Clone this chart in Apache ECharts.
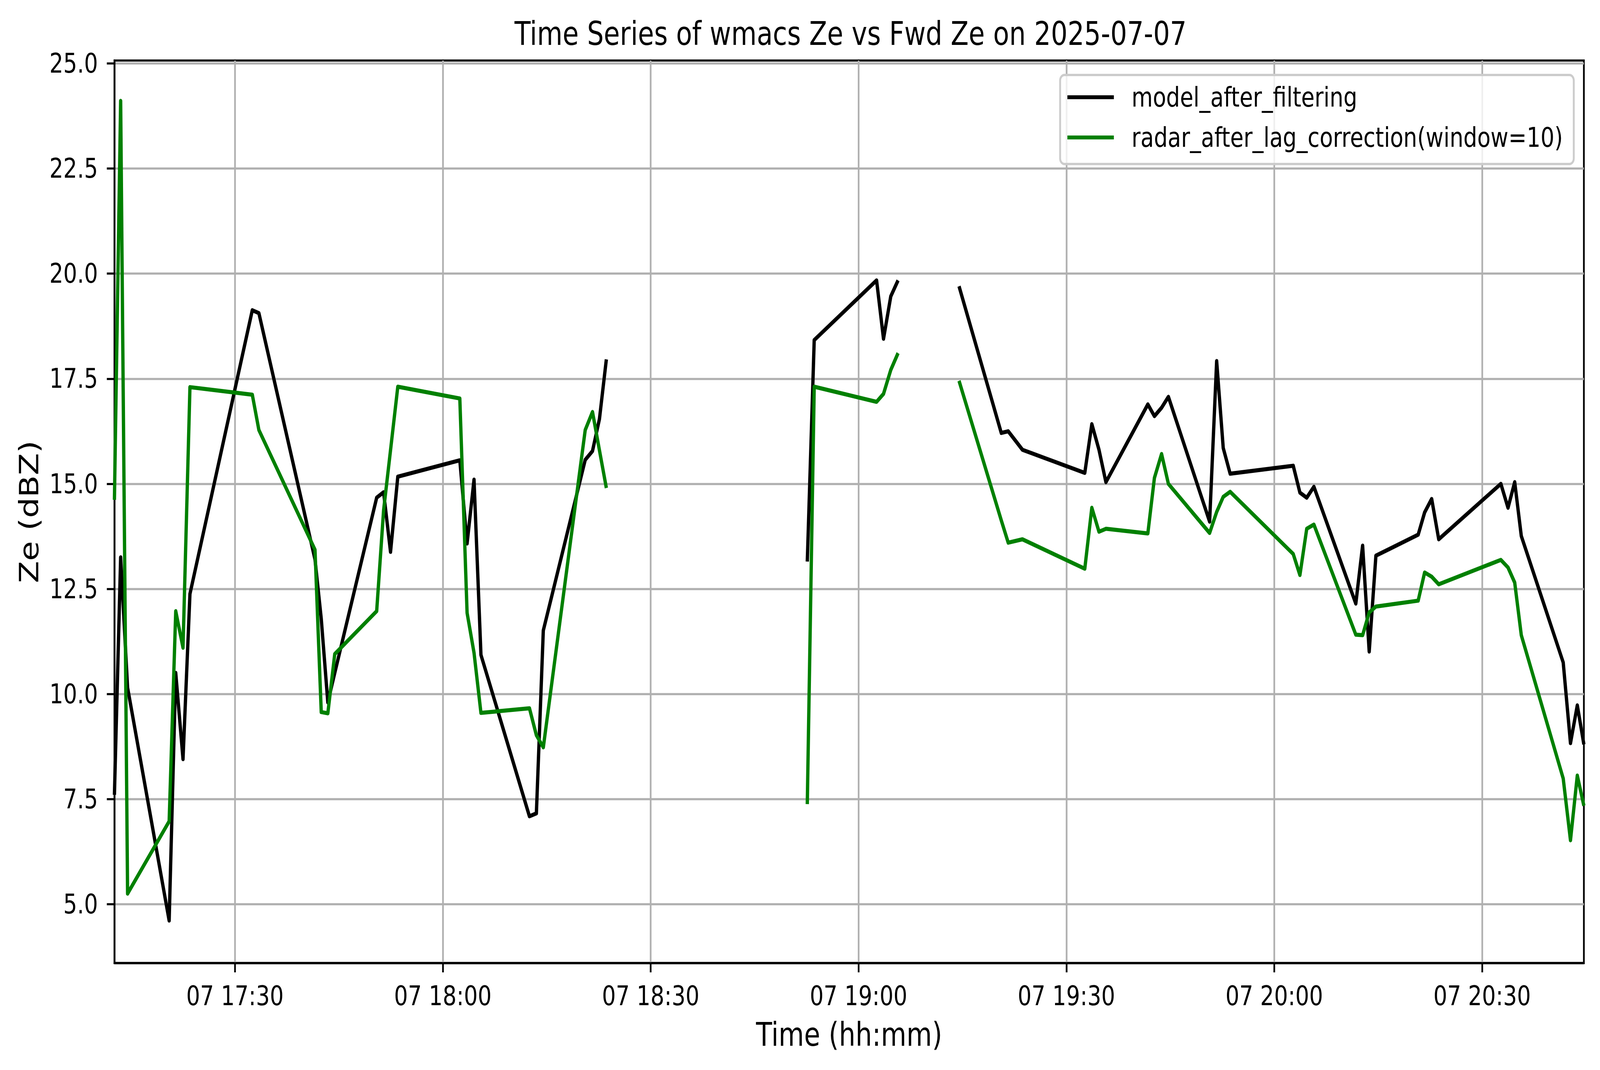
<!DOCTYPE html>
<html>
<head>
<meta charset="utf-8">
<script src="https://cdn.jsdelivr.net/npm/echarts@6/dist/echarts.min.js"></script>
<style>
  html, body { margin: 0; padding: 0; background: #fff; overflow: hidden; }
  #chart { width: 5062px; height: 2740px; transform-origin: 0 0; }
</style>
</head>
<body>
<div id="chart"></div>
<script>
// sample times on 2025-07-07 (null rows mark the gaps in the record)
var times = [
  '17:12:36', '17:13:30', '17:14:30', '17:20:30', '17:21:27', '17:22:30', '17:23:30',
  '17:32:30', '17:33:27', '17:41:33', '17:42:27', '17:43:24', '17:44:24',
  '17:50:27', '17:51:27', '17:52:27', '17:53:30', '18:02:27', '18:03:30', '18:04:30', '18:05:30',
  '18:12:30', '18:13:30', '18:14:30', '18:20:33', '18:21:36', '18:22:36', '18:23:36',
  '18:40:00',
  '18:52:36', '18:53:36', '19:02:36', '19:03:36', '19:04:39', '19:05:42',
  '19:10:00',
  '19:14:30', '19:20:36', '19:21:36', '19:23:39', '19:32:39', '19:33:40', '19:34:42', '19:35:42',
  '19:41:45', '19:42:42', '19:43:44', '19:44:43', '19:50:40', '19:51:41', '19:52:38', '19:53:38',
  '20:02:44', '20:03:42', '20:04:41', '20:05:43', '20:11:46', '20:12:45', '20:13:42', '20:14:40',
  '20:20:46', '20:21:42', '20:22:43', '20:23:44', '20:32:42', '20:33:44', '20:34:42', '20:35:39',
  '20:41:42', '20:42:45', '20:43:44', '20:44:41'
];

var modelZe = [
  7.6, 13.25, 10.15, 4.61, 10.5, 8.45, 12.38,
  19.13, 19.06, 13.2, 11.79, 9.8, 10.5,
  14.67, 14.8, 13.38, 15.17, 15.56, 13.58, 15.1, 10.93,
  7.09, 7.16, 11.51, 15.57, 15.78, 16.54, 17.96,
  null,
  13.15, 18.42, 19.84, 18.45, 19.46, 19.84,
  null,
  19.7, 16.21, 16.25, 15.81, 15.26, 16.42, 15.81, 15.04,
  16.89, 16.61, 16.81, 17.07, 14.1, 17.92, 15.85, 15.24,
  15.43, 14.79, 14.67, 14.93, 12.15, 13.53, 11.01, 13.29,
  13.79, 14.32, 14.64, 13.68, 15.0, 14.43, 15.04, 13.76,
  10.75, 8.83, 9.73, 8.8
];

var radarZe = [
  14.62, 24.11, 5.25, 6.97, 11.97, 11.1, 17.3,
  17.12, 16.28, 13.43, 9.57, 9.54, 10.95,
  11.97, 14.37, 15.8, 17.31, 17.03, 11.93, 10.98, 9.55,
  9.66, 9.02, 8.73, 16.28, 16.71, 15.8, 14.9,
  null,
  7.38, 17.31, 16.95, 17.14, 17.71, 18.11,
  null,
  17.45, 14.13, 13.6, 13.68, 12.98, 14.43, 13.86, 13.93,
  13.82, 15.14, 15.71, 15.0, 13.83, 14.33, 14.69, 14.81,
  13.33, 12.83, 13.93, 14.03, 11.41, 11.4, 11.94, 12.08,
  12.22, 12.89, 12.79, 12.61, 13.19, 13.01, 12.65, 11.4,
  7.99, 6.52, 8.06, 7.34
];

var xTicks = ['17:30', '18:00', '18:30', '19:00', '19:30', '20:00', '20:30'];
var yTicks = [5.0, 7.5, 10.0, 12.5, 15.0, 17.5, 20.0, 22.5, 25.0];

// minutes since midnight
function toMin(s) {
  var p = s.split(':');
  return (+p[0]) * 60 + (+p[1]) + (p[2] ? (+p[2]) / 60 : 0);
}
function pad(n) { return (n < 10 ? '0' : '') + n; }
function fmtTime(v) {
  var m = Math.round(v);
  return '07 ' + pad(Math.floor(m / 60)) + ':' + pad(m % 60);
}

var modelData = [], radarData = [];
for (var i = 0; i < times.length; i++) {
  var t = toMin(times[i]);
  modelData.push([t, modelZe[i] == null ? '-' : modelZe[i]]);
  radarData.push([t, radarZe[i] == null ? '-' : radarZe[i]]);
}
var xTickVals = xTicks.map(toMin);

var FONT = 'DejaVu Sans';
var el = document.getElementById('chart');
// the chart is laid out on a 5062 x 2740 canvas; squeeze it into whatever the viewport is
el.style.transform = 'scale(' + (window.innerWidth / 5062) + ',' + (window.innerHeight / 2740) + ')';

var myChart = echarts.init(el, null, { renderer: 'svg', width: 5062, height: 2740 });

var option = {
  animation: false,
  backgroundColor: '#ffffff',
  textStyle: { fontFamily: FONT },
  title: {
    text: 'Time Series of wmacs Ze vs Fwd Ze on 2025-07-07',
    left: 2686,
    textAlign: 'center',
    top: 40,
    textStyle: { fontFamily: FONT, fontSize: 83, fontWeight: 'normal', color: '#000' }
  },
  legend: {
    orient: 'vertical',
    right: 83,
    top: 192,
    align: 'left',
    padding: [22, 34, 33, 23],
    itemGap: 33,
    itemWidth: 147,
    itemHeight: 10,
    icon: 'rect',
    backgroundColor: 'rgba(255,255,255,0.8)',
    borderColor: '#cccccc',
    borderWidth: 6,
    borderRadius: 14,
    textStyle: { fontFamily: FONT, fontSize: 69, color: '#000', lineHeight: 70, padding: [0, 0, 0, 51] },
    data: ['model_after_filtering', 'radar_after_lag_correction(window=10)']
  },
  grid: {
    left: 362,
    right: 51,
    top: 155,
    bottom: 274,
    show: true,
    borderColor: '#000',
    borderWidth: 5.4,
    backgroundColor: 'transparent'
  },
  xAxis: {
    type: 'value',
    min: toMin(times[0]),
    max: toMin(times[times.length - 1]),
    name: 'Time (hh:mm)',
    nameLocation: 'middle',
    nameGap: 142,
    nameTextStyle: { fontFamily: FONT, fontSize: 83, color: '#000' },
    axisLine: { show: true, lineStyle: { color: '#000', width: 5.4 } },
    axisTick: { show: true, length: 24, customValues: xTickVals, lineStyle: { color: '#000', width: 5.4 } },
    axisLabel: {
      customValues: xTickVals,
      margin: 50,
      fontFamily: FONT,
      fontSize: 69,
      color: '#000',
      formatter: function (v) { return fmtTime(v); }
    },
    splitLine: { show: true, lineStyle: { color: '#b0b0b0', width: 5.4 } }
  },
  yAxis: {
    type: 'value',
    min: 3.6,
    max: 25.07,
    name: 'Ze (dBZ)',
    nameLocation: 'middle',
    nameGap: 228,
    nameTextStyle: { fontFamily: FONT, fontSize: 83, color: '#000' },
    axisLine: { show: true, lineStyle: { color: '#000', width: 5.4 } },
    axisTick: { show: true, length: 24, customValues: yTicks, lineStyle: { color: '#000', width: 5.4 } },
    axisLabel: {
      customValues: yTicks,
      margin: 52,
      fontFamily: FONT,
      fontSize: 69,
      color: '#000',
      formatter: function (v) { return v.toFixed(1); }
    },
    splitLine: { show: true, lineStyle: { color: '#b0b0b0', width: 5.4 } }
  },
  series: [
    {
      name: 'model_after_filtering',
      type: 'line',
      data: modelData,
      showSymbol: false,
      symbol: 'none',
      connectNulls: false,
      color: '#000000',
      lineStyle: { color: '#000000', width: 10.5, join: 'round' }
    },
    {
      name: 'radar_after_lag_correction(window=10)',
      type: 'line',
      data: radarData,
      showSymbol: false,
      symbol: 'none',
      connectNulls: false,
      color: '#008000',
      lineStyle: { color: '#008000', width: 10.5, join: 'round' }
    }
  ]
};

myChart.setOption(option);
</script>
</body>
</html>
